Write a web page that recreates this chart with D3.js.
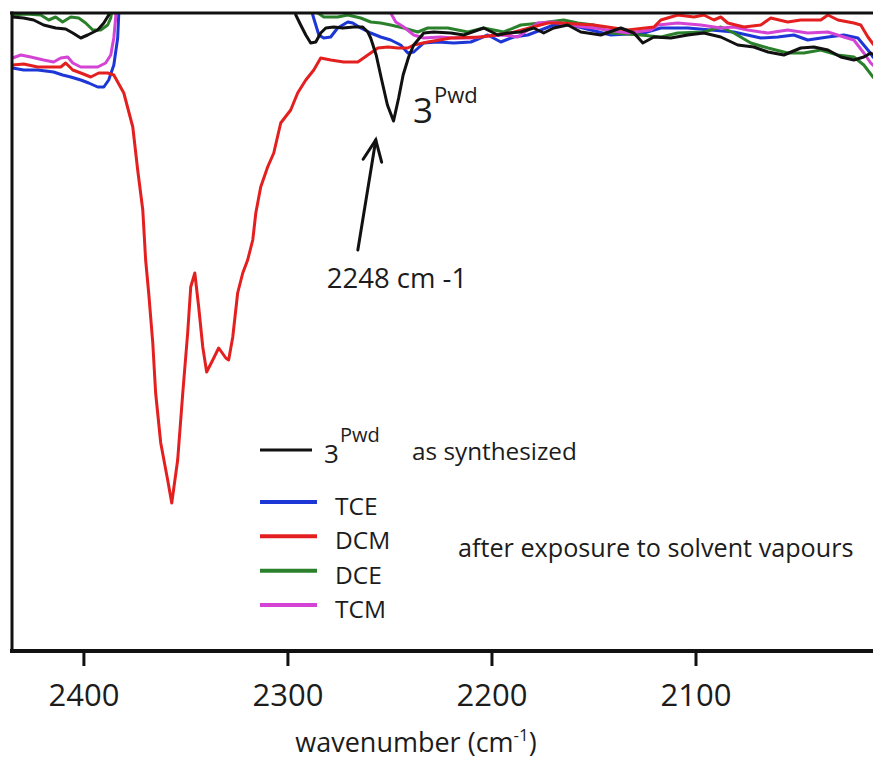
<!DOCTYPE html>
<html>
<head>
<meta charset="utf-8">
<script src="https://cdn.jsdelivr.net/npm/d3@7"></script>
<style>
  body { margin: 0; background: #fff; }
  svg { display: block; }
  text { font-family: "Open Sans", sans-serif; fill: #1c1c1c; }
</style>
</head>
<body>
<svg id="chart" width="873" height="759"></svg>
<script>
// IR spectra, 2435–2013 cm-1: [wavenumber (cm-1), transmittance (a.u.)]
// Values above 63.7 lie off the top of the frame and are clipped.

const pwd = [ // 3Pwd as synthesized
  [2434.7,63.3],[2429.3,63.2],[2424.4,63.0],[2419.5,62.5],[2413.6,62.2],[2408.7,62.1],
  [2405.2,61.7],[2401.3,61.2],[2397.9,61.5],[2393.0,62.0],[2390.0,62.7],[2387.6,63.5],
  [2386.1,65.0],[2383.7,68],[2298.4,68],[2296.9,65.0],[2295.9,63.5],[2293.5,62.5],
  [2291.0,61.5],[2288.6,60.7],[2286.1,60.8],[2283.7,61.7],[2281.2,62.2],[2277.3,62.3],
  [2272.9,62.2],[2267.5,62.3],[2263.1,62.3],[2260.6,61.8],[2259.2,61.2],[2256.5,59.5],
  [2253.8,57.0],[2251.0,54.5],[2248.0,52.9],[2245.5,55.2],[2243.3,57.5],[2240.6,59.3],
  [2238.1,60.5],[2233.2,61.7],[2228.3,61.8],[2219.9,61.7],[2213.6,61.5],[2203.8,62.2],
  [2196.9,61.5],[2192.0,61.7],[2185.6,61.8],[2179.3,62.2],[2174.4,61.7],[2169.5,62.2],
  [2162.6,62.5],[2156.2,61.8],[2146.4,61.5],[2136.6,62.2],[2130.2,61.7],[2125.8,60.7],
  [2120.4,61.3],[2112.1,61.2],[2103.8,61.5],[2095.9,61.7],[2087.6,61.3],[2079.3,60.5],
  [2071.4,60.3],[2064.5,59.8],[2056.7,59.5],[2048.4,60.2],[2042.0,60.3],[2035.1,60.0],
  [2028.8,59.3],[2022.4,59.0],[2017.5,59.3],[2014.1,59.7],[2012.6,59.5]
];

const tce = [
  [2434.7,58.2],[2429.3,58.0],[2422.4,58.0],[2414.6,57.8],[2410.2,57.5],[2406.2,57.3],
  [2401.3,57.0],[2397.4,56.7],[2393.0,56.3],[2390.0,56.3],[2387.6,57.0],[2385.1,58.5],
  [2383.2,61.2],[2382.7,63.5],[2381.7,68],[2289.1,68],[2287.6,63.5],[2286.1,62.5],
  [2284.6,61.5],[2282.2,61.2],[2278.8,61.3],[2275.4,62.2],[2270.4,62.8],[2268.0,62.7],
  [2264.1,62.2],[2259.2,61.7],[2254.3,61.3],[2249.4,61.0],[2244.5,60.5],[2241.0,59.7],
  [2238.1,59.8],[2233.2,60.7],[2226.3,60.8],[2218.5,60.7],[2210.1,60.8],[2201.8,61.5],
  [2195.4,60.8],[2189.1,61.3],[2182.2,61.5],[2175.8,62.0],[2169.5,62.5],[2161.1,62.5],
  [2151.3,62.0],[2141.5,61.5],[2125.3,61.7],[2117.0,62.2],[2103.8,62.2],[2092.5,62.0],
  [2081.2,61.8],[2068.0,61.2],[2059.6,61.3],[2051.8,61.5],[2045.0,61.0],[2035.1,61.3],
  [2027.3,61.5],[2020.4,61.2],[2015.5,60.0],[2012.6,59.2]
];

const dcm = [
  [2434.7,58.5],[2429.3,58.6],[2422.4,58.3],[2416.0,58.3],[2411.1,58.3],[2408.7,58.7],
  [2405.2,58.0],[2401.3,57.7],[2396.4,57.3],[2392.5,57.7],[2388.1,57.7],[2385.1,57.5],
  [2380.2,55.7],[2375.8,52.3],[2373.4,48.0],[2370.9,44.0],[2369.5,39.0],[2368.0,35.7],
  [2366.0,30.7],[2364.6,25.7],[2362.1,20.7],[2358.7,17.0],[2356.7,14.7],[2353.8,19.0],
  [2351.3,25.7],[2348.9,31.7],[2347.4,36.3],[2345.4,37.7],[2343.5,34.3],[2341.5,30.3],
  [2339.6,27.8],[2336.6,29.0],[2333.7,30.2],[2330.2,29.2],[2328.8,29.0],[2326.8,31.3],
  [2324.4,35.7],[2321.9,37.7],[2319.5,39.0],[2317.0,41.0],[2315.5,43.7],[2313.1,46.3],
  [2309.7,48.3],[2306.7,49.7],[2303.3,52.7],[2298.4,54.0],[2295.0,55.7],[2291.0,57.0],
  [2287.1,58.0],[2283.7,59.2],[2278.8,59.0],[2272.4,58.8],[2265.5,58.8],[2260.6,59.5],
  [2255.7,60.2],[2250.8,60.3],[2245.9,60.2],[2241.0,60.2],[2238.1,60.5],[2231.2,60.8],
  [2219.9,61.2],[2205.2,61.3],[2190.5,61.7],[2172.4,62.7],[2166.0,62.7],[2149.8,62.5],
  [2133.2,62.0],[2120.4,62.3],[2117.0,63.0],[2108.7,63.5],[2100.8,63.3],[2095.9,63.5],
  [2091.0,63.0],[2087.6,63.3],[2084.2,62.7],[2076.3,62.3],[2068.0,62.5],[2063.1,63.2],
  [2054.8,62.8],[2048.4,63.0],[2038.6,63.0],[2035.1,63.5],[2030.2,63.0],[2022.4,62.7],
  [2019.0,62.5],[2015.5,61.3],[2012.6,60.5]
];

const dce = [
  [2434.7,63.5],[2428.3,63.6],[2420.9,63.5],[2417.0,63.0],[2413.6,63.3],[2410.2,62.8],
  [2406.2,63.3],[2402.3,63.2],[2398.9,62.7],[2395.4,62.0],[2391.5,62.0],[2388.1,62.5],
  [2386.6,63.2],[2385.6,64.5],[2384.7,68],[2286.6,68],[2285.1,63.7],[2282.2,63.3],
  [2275.4,63.3],[2270.4,63.5],[2264.1,63.2],[2259.2,62.8],[2254.3,62.7],[2249.4,62.5],
  [2243.0,62.2],[2236.1,61.8],[2231.2,62.2],[2221.4,62.2],[2211.6,61.8],[2203.8,62.2],
  [2194.0,61.8],[2185.6,62.5],[2175.8,62.7],[2164.6,63.0],[2157.7,62.7],[2149.8,62.5],
  [2141.5,61.7],[2126.8,61.5],[2117.0,61.3],[2108.7,61.7],[2095.9,61.8],[2087.6,62.3],
  [2081.2,61.7],[2072.9,60.7],[2064.5,60.2],[2054.8,59.7],[2046.9,59.7],[2038.6,60.0],
  [2030.2,59.5],[2022.4,59.3],[2017.5,58.5],[2012.6,57.2]
];

const tcm = [
  [2434.7,59.2],[2430.7,59.5],[2425.8,59.3],[2419.5,59.0],[2414.6,58.8],[2411.1,59.2],
  [2407.7,59.3],[2405.2,58.7],[2401.3,58.3],[2397.4,58.3],[2393.0,58.3],[2389.1,58.7],
  [2386.6,59.5],[2385.1,61.2],[2384.2,63.2],[2383.2,68],[2251.3,68],[2249.4,63.7],
  [2246.9,62.8],[2243.0,62.3],[2238.1,61.5],[2233.2,61.2],[2224.9,61.3],[2218.5,61.2],
  [2210.1,61.2],[2201.8,61.4],[2194.0,61.5],[2187.1,61.3],[2177.3,62.7],[2169.5,62.8],
  [2162.6,62.5],[2149.8,62.2],[2133.2,61.7],[2121.9,62.0],[2118.5,62.5],[2108.7,62.7],
  [2097.4,62.5],[2087.6,62.2],[2081.2,62.3],[2074.4,62.0],[2064.5,61.7],[2054.8,62.0],
  [2045.0,61.7],[2035.1,61.8],[2027.3,61.3],[2022.4,61.0],[2017.5,59.7],[2014.1,58.7],
  [2012.6,58.4]
];

const xTicks = [2400, 2300, 2200, 2100];
const peakWavenumber = 2248;
const solventNames = ["TCE", "DCM", "DCE", "TCM"];

// ---- layout & styling ----
const W = 873, H = 759;
const plot = { left: 12, right: 873, top: 13, bottom: 650 };
const colors = { TCE: "#1d36d6", DCM: "#e3201f", DCE: "#2b812b", TCM: "#d444d4", pwd: "#111111" };

const svg = d3.select("#chart");

const x = d3.scaleLinear().domain([2435, 2013]).range([plot.left, plot.right]);
const y = d3.scaleLinear().domain([0, 63.7]).range([plot.bottom, plot.top]);

svg.append("defs").append("clipPath").attr("id", "plot-clip")
  .append("rect")
  .attr("x", plot.left).attr("y", plot.top)
  .attr("width", plot.right - plot.left).attr("height", plot.bottom - plot.top);

const line = d3.line().x(d => x(d[0])).y(d => y(d[1]));

const curves = svg.append("g").attr("clip-path", "url(#plot-clip)")
  .attr("fill", "none").attr("stroke-width", 3).attr("stroke-linejoin", "round");

// draw order: blue, green, magenta, red, then the as-synthesized trace on top
[["TCE", tce], ["DCE", dce], ["TCM", tcm], ["DCM", dcm], ["pwd", pwd]].forEach(([k, data]) => {
  curves.append("path").datum(data).attr("d", line).attr("stroke", colors[k]);
});

// frame: left, top, bottom
const frame = svg.append("g").attr("stroke", "#111").attr("fill", "none");
frame.append("line").attr("x1", plot.left).attr("x2", plot.left)
  .attr("y1", plot.top - 1.5).attr("y2", plot.bottom + 2).attr("stroke-width", 3);
frame.append("line").attr("x1", plot.left - 2).attr("x2", W)
  .attr("y1", plot.top).attr("y2", plot.top).attr("stroke-width", 3.2);
frame.append("line").attr("x1", plot.left - 2).attr("x2", W)
  .attr("y1", plot.bottom + 1).attr("y2", plot.bottom + 1).attr("stroke-width", 4);

// bottom axis
const axis = svg.append("g").attr("transform", `translate(0,${plot.bottom + 2})`)
  .call(d3.axisBottom(x).tickValues(xTicks).tickSize(14).tickSizeOuter(0).tickPadding(16)
    .tickFormat(d3.format("d")));
axis.select(".domain").remove();
axis.selectAll(".tick line").attr("stroke", "#111").attr("stroke-width", 3);
axis.selectAll(".tick text")
  .attr("font-family", "'Open Sans', sans-serif").attr("font-size", 31)
  .attr("fill", "#1c1c1c").attr("dy", "0.78em");

// axis title
const title = svg.append("text").attr("x", 416).attr("y", 752)
  .attr("text-anchor", "middle").attr("font-size", 27);
title.append("tspan").text("wavenumber (cm");
title.append("tspan").attr("font-size", 17).attr("dy", -11).text("-1");
title.append("tspan").attr("dy", 11).text(")");

// peak label next to the 2248 cm-1 band
const peakLabel = svg.append("text").attr("x", 413).attr("y", 123).attr("font-size", 35);
peakLabel.append("tspan").text("3");
peakLabel.append("tspan").attr("font-size", 22).attr("dy", -20).attr("dx", 1).text("Pwd");

// arrow pointing at the band
const arrowStart = [2265.5, 40.0], arrowTip = [2256.7, 51.0];
const ax0 = x(arrowStart[0]), ay0 = y(arrowStart[1]);
const ax1 = x(arrowTip[0]), ay1 = y(arrowTip[1]);
const ang = Math.atan2(ay1 - ay0, ax1 - ax0);
const headLen = 23, headAng = 0.42;
const arrow = svg.append("g").attr("stroke", "#111").attr("stroke-width", 3)
  .attr("fill", "none").attr("stroke-linecap", "round");
arrow.append("line").attr("x1", ax0).attr("y1", ay0).attr("x2", ax1).attr("y2", ay1);
arrow.append("path").attr("d",
  `M${ax1 - headLen * Math.cos(ang - headAng)},${ay1 - headLen * Math.sin(ang - headAng)}` +
  `L${ax1},${ay1}` +
  `L${ax1 - headLen * Math.cos(ang + headAng)},${ay1 - headLen * Math.sin(ang + headAng)}`);

svg.append("text").attr("x", 397).attr("y", 288).attr("text-anchor", "middle")
  .attr("font-size", 27.5).text(`${peakWavenumber} cm -1`);

// legend
const legend = svg.append("g");
legend.append("line").attr("x1", 260).attr("x2", 312).attr("y1", 450).attr("y2", 450)
  .attr("stroke", colors.pwd).attr("stroke-width", 3.2);
const lg3 = legend.append("text").attr("x", 324).attr("y", 463).attr("font-size", 26);
lg3.append("tspan").text("3");
lg3.append("tspan").attr("font-size", 20).attr("dy", -21).attr("dx", 1).text("Pwd");
legend.append("text").attr("x", 412).attr("y", 460).attr("font-size", 24.3).text("as synthesized");

const rowY = d3.scalePoint().domain(solventNames).range([502, 605]);
solventNames.forEach(name => {
  legend.append("line").attr("x1", 260).attr("x2", 317)
    .attr("y1", rowY(name)).attr("y2", rowY(name))
    .attr("stroke", colors[name]).attr("stroke-width", 4);
  legend.append("text").attr("x", 335).attr("y", rowY(name) + 13).attr("font-size", 24.5).text(name);
});
legend.append("text").attr("x", 458).attr("y", 557).attr("font-size", 25.2)
  .text("after exposure to solvent vapours");
</script>
</body>
</html>
